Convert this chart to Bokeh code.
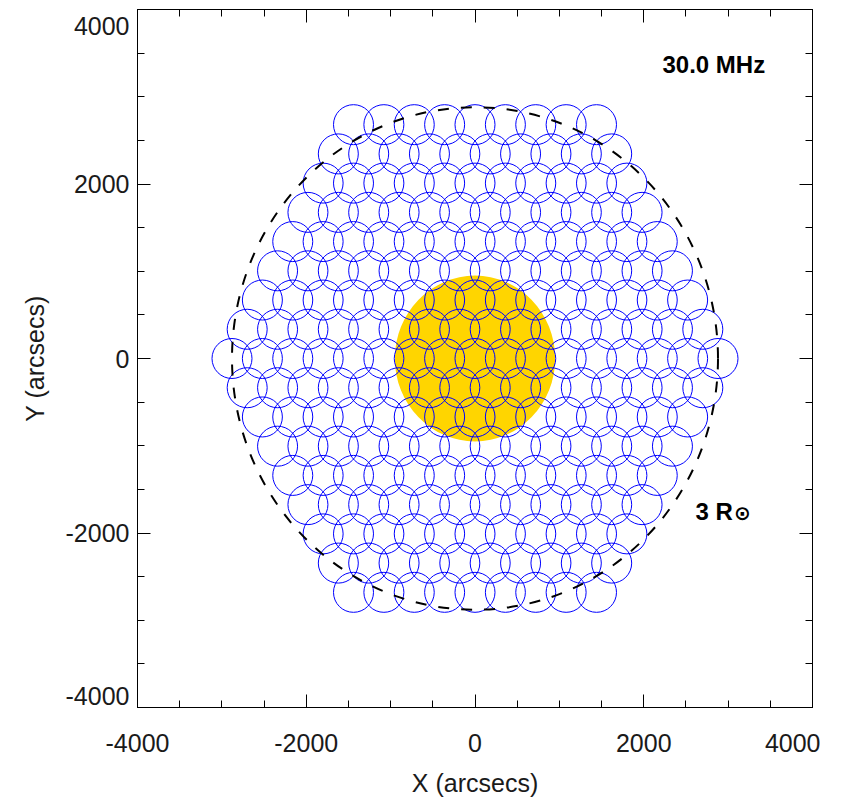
from bokeh.plotting import figure
from bokeh.models import SingleIntervalTicker, LinearAxis, Label, Range1d, NumeralTickFormatter
from bokeh.embed import file_html
from bokeh.resources import INLINE

# ---- data ----
freq_label = "30.0 MHz"
limb_text = "3 R"
limb_symbol = "\u2299"
beam_row_y = [2680, 2345, 2010, 1675, 1340, 1005, 670, 335, 0,
              -335, -670, -1005, -1340, -1675, -2010, -2345, -2680]
beam_row_count = [9, 10, 11, 12, 13, 14, 15, 16, 17, 16, 15, 14, 13, 12, 11, 10, 9]
beam_spacing = 360
beam_radius = 237
sun_radius = 950
limb_radius = 2880  # 3 solar radii
axis_min, axis_max = -4000, 4000

# beam centres on the tied-array grid (row by row)
beam_x, beam_y = [], []
for yv, n in zip(beam_row_y, beam_row_count):
    for i in range(n):
        beam_x.append((i - (n - 1) / 2) * beam_spacing)
        beam_y.append(yv)

FONT = "Liberation Sans"
TXT = "#1a1a1a"

p = figure(x_range=Range1d(axis_min, axis_max), y_range=Range1d(axis_min, axis_max),
           frame_width=675, frame_height=698,
           min_border_left=137, min_border_right=8, min_border_top=9, min_border_bottom=92,
           output_backend="svg", toolbar_location=None,
           x_axis_location=None, y_axis_location=None)
p.xgrid.visible = False
p.ygrid.visible = False
p.outline_line_color = "black"
p.outline_line_width = 1
p.background_fill_color = "white"
p.border_fill_color = "white"


def make_axis(show_labels):
    ax = LinearAxis(ticker=SingleIntervalTicker(interval=2000, num_minor_ticks=4),
                    formatter=NumeralTickFormatter(format="0"))
    ax.major_tick_in = 13
    ax.major_tick_out = 0
    ax.minor_tick_in = 7
    ax.minor_tick_out = 0
    ax.axis_line_color = "black"
    ax.major_tick_line_color = "black"
    ax.minor_tick_line_color = "black"
    ax.major_label_text_font = FONT
    ax.major_label_text_color = TXT
    ax.axis_label_text_font = FONT
    ax.axis_label_text_font_style = "normal"
    ax.axis_label_text_color = TXT
    if show_labels:
        ax.major_label_text_font_size = "25px"
        ax.axis_label_text_font_size = "25px"
    else:
        ax.major_label_text_font_size = "1px"
        ax.major_label_text_color = None
        ax.major_label_standoff = 0
    return ax


xb = make_axis(True)
xb.axis_label = "X (arcsecs)"
xb.major_label_standoff = 26
xb.axis_label_standoff = 14
p.add_layout(xb, "below")

yl = make_axis(True)
yl.axis_label = "Y (arcsecs)"
yl.major_label_standoff = 8
yl.axis_label_standoff = 14
yl.major_label_text_line_height = 0.4
# end labels sit inside the frame edge, as in the reference
yl.major_label_overrides = {axis_max: " \n" + str(axis_max), axis_min: str(axis_min) + "\n \n "}
p.add_layout(yl, "left")

p.add_layout(make_axis(False), "above")
p.add_layout(make_axis(False), "right")

# Sun disk
p.ellipse(x=[0], y=[0], width=[2 * sun_radius], height=[2 * sun_radius],
          fill_color="#FFD500", line_color=None)

# beams
p.circle(x=beam_x, y=beam_y, radius=beam_radius, fill_color=None,
         line_color="#0000FF", line_width=1)

# 3 R_sun dashed circle
p.ellipse(x=[0], y=[0], width=[2 * limb_radius], height=[2 * limb_radius],
          fill_color=None, line_color="black", line_width=2, line_dash="11 12")

# annotations
p.add_layout(Label(x=2222, y=3370, text=freq_label, text_align="left",
                   text_baseline="alphabetic", text_font=FONT, text_font_style="bold",
                   text_font_size="24px", text_color="black"))
p.add_layout(Label(x=2613, y=-1750, text=limb_text, text_align="left",
                   text_baseline="alphabetic", text_font=FONT, text_font_style="bold",
                   text_font_size="24px", text_color="black"))
p.add_layout(Label(x=3170, y=-1775, text=limb_symbol, text_align="center",
                   text_baseline="middle", text_font="DejaVu Sans", text_font_style="bold",
                   text_font_size="20px", text_color="black"))

open("out.html", "w").write(file_html(p, INLINE))
